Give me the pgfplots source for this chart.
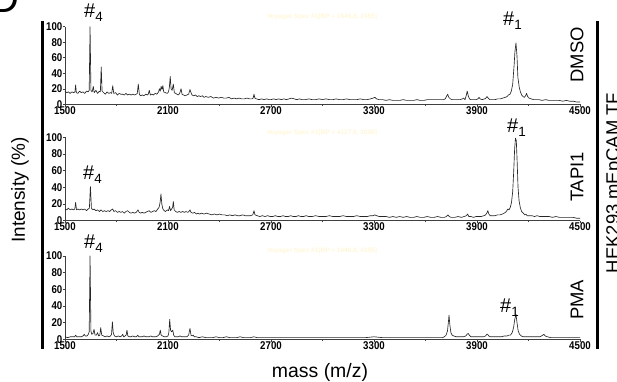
\documentclass[border=0pt]{standalone}
\usepackage{fontspec}
\setmainfont{Liberation Sans}
\newfontfamily\tickfont[FakeStretch=0.86]{Liberation Sans}
\usepackage{pgfplots}
\pgfplotsset{compat=1.18}
\definecolor{wm}{rgb}{1.0,0.965,0.84}
\pgfplotsset{spec/.style={
  scale only axis, width=515bp,
  xmin=1500, xmax=4500, ymin=0, ymax=100,
  axis lines*=left,
  axis line style={line width=0.6bp, black!75},
  xtick={1500,2100,2700,3300,3900,4500},
  minor xtick={1800,2400,3000,3600,4200},
  ytick={0,20,40,60,80,100},
  tick align=outside,
  major tick length=2.5bp, minor tick length=1.5bp,
  tick style={line width=0.5bp, black!75},
  ticklabel style={font=\tickfont\bfseries\fontsize{11.3}{12}\selectfont, inner sep=0.5bp},
  xticklabel style={yshift=1bp},
  yticklabel style={xshift=0.5bp},
  /pgf/number format/assume math mode=true,
  /pgf/number format/set thousands separator={},
  clip=false,
}}
\tikzset{specline/.style={line width=0.65bp, color=black!85, mark=none, line join=round}}
\newcommand{\hashlab}[1]{{\fontsize{20}{20}\selectfont\#}{\fontsize{13.5}{13.5}\selectfont\raisebox{-4bp}{#1}}}
\begin{document}
\begin{tikzpicture}
\useasboundingbox (0,0) rectangle (617bp,382bp);
% ---------------- DMSO ----------------
\begin{axis}[spec, height=77.6bp, at={(65bp,277.7bp)}, anchor=south west]
\addplot[specline] table {
1500 17
1510 15
1520 16
1530 14
1540 16
1550 15
1558 16
1562 25
1566 15
1575 14
1585 17
1595 15
1605 16
1615 14
1625 17
1635 16
1641 18
1646 100
1651 18
1658 16
1665 23
1670 15
1680 18
1690 14
1700 17
1706 16
1711 48
1716 17
1725 15
1735 13
1745 16
1755 14
1765 15
1772 14
1778 24
1784 14
1795 15
1805 12
1815 14
1825 13
1835 13
1845 12
1855 14
1865 12
1875 13
1885 12
1895 13
1905 12
1915 13
1921 14
1927 26
1933 13
1940 11
1950 12
1960 11
1970 13
1980 12
1985 13
1991 18
1997 12
2005 13
2015 12
2025 14
2035 13
2045 16
2050 20
2055 17
2060 23
2065 19
2070 24
2075 16
2085 15
2095 14
2103 16
2108 22
2113 36
2118 20
2124 18
2131 26
2137 15
2145 14
2152 13
2160 12
2168 14
2176 20
2182 13
2190 12
2200 11
2210 12
2220 13
2228 19
2234 15
2240 12
2250 11
2260 12
2270 10
2280 11
2290 10
2300 11
2310 9
2320 10
2335 9
2350 10
2365 8
2380 9
2395 8
2410 9
2425 8
2440 8
2455 9
2470 7
2485 8
2500 7
2515 8
2530 7
2545 7
2560 8
2575 7
2590 7
2596 8
2601 13
2606 8
2615 7
2630 6
2645 7
2660 6
2675 7
2690 6
2700 6
2715 7
2730 6
2745 7
2760 6
2775 7
2790 6
2805 7
2820 8
2835 7
2850 6
2865 7
2880 6
2900 6
2920 7
2940 6
2960 6
2980 7
3000 6
3020 7
3040 6
3060 6
3080 7
3100 6
3120 6
3140 7
3160 6
3180 6
3200 6
3220 7
3240 6
3260 6
3280 7
3295 8
3305 9
3315 7
3330 6
3350 6
3370 5
3390 6
3410 5
3430 5
3450 5
3470 6
3490 5
3510 5
3530 5
3550 6
3570 5
3590 5
3610 6
3630 6
3650 6
3670 6
3690 6
3705 6
3715 7
3722 10
3729 13
3736 9
3745 7
3755 6
3770 6
3785 6
3800 6
3815 7
3822 8
3830 6
3837 11
3843 17
3849 11
3856 7
3865 6
3880 6
3895 6
3905 7
3912 9
3918 7
3930 6
3945 7
3952 8
3958 10
3965 8
3975 6
3990 6
4005 6
4020 7
4035 7
4050 8
4065 9
4075 10
4083 12
4092 13
4100 17
4108 26
4116 50
4121 68
4127 79
4133 62
4138 35
4146 22
4153 16
4160 12
4168 10
4176 9
4183 11
4189 14
4195 10
4203 8
4215 7
4230 6
4245 6
4260 6
4280 5
4300 6
4320 5
4340 5
4360 5
4380 5
4400 4
4420 5
4440 4
4460 4
4480 3
4500 3
};
\end{axis}
% ---------------- TAPI1 ----------------
\begin{axis}[spec, height=83.4bp, at={(65bp,161.3bp)}, anchor=south west]
\addplot[specline] table {
1500 14
1510 13
1520 15
1530 13
1540 14
1550 13
1557 14
1562 22
1567 13
1575 14
1585 13
1595 14
1605 13
1615 14
1625 12
1635 14
1642 15
1648 41
1654 15
1662 13
1670 14
1680 12
1690 13
1700 11
1710 13
1720 11
1730 12
1740 11
1750 12
1760 11
1770 13
1778 14
1785 11
1795 12
1805 10
1815 11
1825 10
1835 11
1845 9
1855 11
1865 12
1875 10
1885 9
1895 10
1905 9
1915 10
1925 13
1932 10
1940 9
1950 10
1960 9
1970 10
1980 11
1990 12
2000 10
2010 11
2020 12
2030 11
2040 14
2048 16
2054 22
2059 32
2064 20
2070 14
2078 12
2085 11
2095 13
2103 12
2109 17
2115 12
2121 14
2127 16
2131 23
2136 13
2145 11
2155 10
2165 11
2175 10
2185 11
2195 10
2205 11
2215 10
2222 11
2228 13
2234 10
2245 9
2255 10
2265 8
2275 9
2285 8
2295 9
2310 8
2325 9
2340 8
2355 7
2370 8
2385 7
2400 8
2415 7
2430 7
2445 6
2460 7
2475 6
2490 7
2505 6
2520 6
2535 7
2550 6
2565 6
2580 6
2594 7
2601 12
2607 7
2620 6
2635 5
2650 6
2665 5
2680 6
2695 5
2710 5
2725 6
2740 5
2755 5
2770 6
2785 5
2800 5
2815 6
2830 5
2845 5
2860 6
2875 5
2890 5
2905 6
2920 5
2940 5
2960 6
2980 5
3000 5
3020 5
3040 6
3060 5
3080 5
3100 5
3120 6
3140 5
3160 5
3180 5
3200 6
3220 5
3240 5
3260 5
3280 6
3295 6
3305 7
3315 6
3330 5
3350 5
3370 5
3390 4
3410 5
3430 4
3450 5
3470 4
3490 5
3510 4
3530 4
3550 5
3570 4
3590 4
3610 5
3630 4
3650 4
3670 5
3690 4
3710 4
3722 5
3731 7
3738 5
3750 4
3770 4
3790 5
3810 4
3825 5
3838 6
3845 8
3852 5
3865 5
3880 4
3895 5
3910 5
3925 5
3940 6
3950 7
3957 9
3963 12
3969 8
3977 6
3990 6
4005 6
4020 7
4035 7
4048 8
4058 9
4066 10
4074 12
4080 14
4086 13
4094 16
4101 22
4108 35
4114 60
4119 85
4124 99
4129 96
4134 70
4139 40
4145 24
4152 16
4160 11
4170 9
4178 7
4185 8
4192 6
4205 6
4220 6
4235 5
4250 6
4265 5
4280 5
4300 5
4320 5
4340 4
4360 5
4380 4
4400 4
4420 4
4440 4
4460 4
4480 3
4500 3
};
\end{axis}
% ---------------- PMA ----------------
\begin{axis}[spec, height=83.3bp, at={(65bp,42.7bp)}, anchor=south west]
\addplot[specline] table {
1500 3
1515 2
1530 3
1545 3
1556 3
1562 5
1568 3
1580 3
1595 3
1605 4
1612 6
1618 4
1628 4
1636 6
1641 9
1646 100
1651 10
1656 6
1663 7
1669 12
1675 5
1683 5
1690 8
1696 4
1703 5
1708 14
1714 5
1725 4
1735 3
1745 4
1755 3
1765 4
1771 6
1776 21
1781 8
1788 4
1800 3
1810 4
1820 3
1830 4
1836 6
1842 3
1850 4
1856 5
1861 11
1866 4
1875 3
1885 3
1895 4
1905 3
1915 3
1920 4
1924 5
1930 3
1940 3
1950 3
1960 4
1970 3
1980 3
1990 3
2000 4
2010 3
2020 3
2030 3
2040 4
2050 6
2055 11
2060 5
2068 4
2078 3
2090 3
2100 4
2105 8
2110 24
2115 11
2121 9
2128 11
2133 5
2140 3
2150 3
2160 3
2170 4
2180 3
2190 3
2200 3
2210 3
2220 5
2228 13
2234 5
2240 4
2247 5
2253 3
2265 3
2280 2
2300 3
2320 2
2340 2
2360 2
2380 3
2400 2
2420 2
2440 3
2460 2
2480 2
2500 2
2520 3
2540 2
2560 2
2580 2
2600 3
2620 2
2640 2
2660 2
2680 2
2700 2
2750 2
2800 2
2850 2
2900 2
2950 2
3000 2
3050 2
3100 2
3150 2
3200 2
3250 2
3300 3
3350 2
3400 2
3450 2
3500 2
3550 2
3600 2
3650 2
3700 2
3710 3
3720 5
3728 10
3733 20
3737 29
3742 17
3748 8
3755 5
3765 4
3780 3
3800 3
3820 3
3835 4
3842 6
3849 7
3855 5
3865 3
3880 3
3900 3
3920 3
3940 3
3950 4
3956 6
3962 6
3968 4
3980 3
4000 3
4020 3
4040 3
4060 4
4075 4
4085 5
4095 5
4105 8
4113 14
4120 24
4127 30
4133 20
4140 10
4148 6
4158 4
4170 3
4190 3
4210 3
4230 3
4250 3
4265 3
4275 4
4283 5
4290 6
4297 4
4310 3
4330 2
4350 2
4380 2
4410 2
4440 2
4470 2
4500 2
};
\end{axis}
% ---------------- frame decorations ----------------
\draw[line width=3bp] (42bp,33bp) -- (42bp,361bp);
\draw[line width=3bp] (597bp,33bp) -- (597bp,361bp);
\node[rotate=90, font=\fontsize{19}{19}\selectfont] at (20bp,192bp) {Intensity (\%)};
\node[anchor=base, font=\fontsize{19.5}{19.5}\selectfont, inner sep=0pt] at (320bp,5bp) {mass (m/z)};
\node[rotate=90, font=\fontsize{18.5}{18.5}\selectfont] at (577bp,327bp) {DMSO};
\node[rotate=90, font=\fontsize{18.5}{18.5}\selectfont] at (577bp,205bp) {TAPI1};
\node[rotate=90, font=\fontsize{18.5}{18.5}\selectfont] at (577bp,82bp) {PMA};
\node[rotate=90, anchor=base, inner sep=0pt, font=\fontsize{18.5}{18.5}\selectfont] at (619bp,199bp) {HEK293 mEpCAM TF};
\node[anchor=base east, inner sep=0pt, font=\fontsize{40}{40}\selectfont] at (19bp,369bp) {D};
% peak labels
\node[anchor=base west, inner sep=0pt] at (84bp,364bp) {\hashlab{4}};
\node[anchor=base west, inner sep=0pt] at (83bp,202bp) {\hashlab{4}};
\node[anchor=base west, inner sep=0pt] at (84bp,133bp) {\hashlab{4}};
\node[anchor=base west, inner sep=0pt] at (503bp,356bp) {\hashlab{1}};
\node[anchor=base west, inner sep=0pt] at (507bp,249bp) {\hashlab{1}};
\node[anchor=base west, inner sep=0pt] at (500bp,69bp) {\hashlab{1}};
% faint instrument watermarks
\node[text=wm, font=\fontsize{6.5}{6.5}\selectfont\bfseries] at (322bp,365bp) {Voyager Spec \#1[BP = 1646.8, 2455]};
\node[text=wm, font=\fontsize{6.5}{6.5}\selectfont\bfseries] at (322bp,249bp) {Voyager Spec \#1[BP = 4127.9, 2030]};
\node[text=wm, font=\fontsize{6.5}{6.5}\selectfont\bfseries] at (322bp,131bp) {Voyager Spec \#1[BP = 1646.8, 4355]};
\end{tikzpicture}
\end{document}
